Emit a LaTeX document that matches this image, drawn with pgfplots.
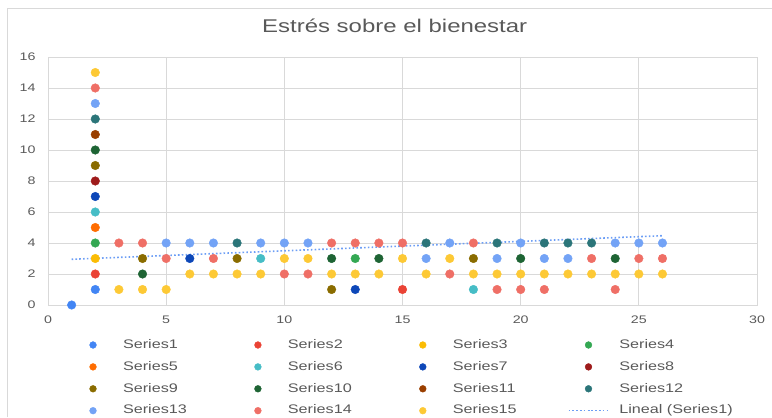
\documentclass[border=0pt]{standalone}
\usepackage{pgfplots}
\pgfplotsset{compat=1.18}
\usepackage{fontspec}
\setmainfont{Liberation Sans}[FakeStretch=1.3]
\definecolor{gridc}{HTML}{D9D9D9}
\definecolor{textc}{HTML}{595959}
\definecolor{S1}{HTML}{4285F4}
\definecolor{S2}{HTML}{EA4335}
\definecolor{S3}{HTML}{FBBC04}
\definecolor{S4}{HTML}{34A853}
\definecolor{S5}{HTML}{FF6D01}
\definecolor{S6}{HTML}{46BDC6}
\definecolor{S7}{HTML}{0D47B8}
\definecolor{S8}{HTML}{9E1B1B}
\definecolor{S9}{HTML}{8A6C00}
\definecolor{S10}{HTML}{1E6434}
\definecolor{S11}{HTML}{9A3F00}
\definecolor{S12}{HTML}{2B7579}
\definecolor{S13}{HTML}{73A3F6}
\definecolor{S14}{HTML}{EF6F66}
\definecolor{S15}{HTML}{FDC935}
\definecolor{trend}{HTML}{6D9EF5}
\begin{document}
\begin{tikzpicture}[x=1bp,y=1bp]
\useasboundingbox (0,0) rectangle (772,417);
\draw[color=gridc, line width=1bp] (7,0) -- (7,408) -- (772,408);
\begin{axis}[
  at={(48bp,112bp)}, anchor=south west,
  scale only axis, width=709bp, height=248bp,
  xmin=0, xmax=30, ymin=0, ymax=16,
  xtick={0,5,...,30}, ytick={0,2,...,16},
  grid=major, grid style={color=gridc, line width=0.9bp},
  axis line style={color=gridc, line width=0.9bp},
  major tick style={draw=none},
  clip=false,
  /pgf/number format/assume math mode=true,
  xticklabel style={font=\fontsize{11}{13}\selectfont, text=textc, yshift=-7bp},
  yticklabel style={font=\fontsize{11}{13}\selectfont, text=textc, xshift=-9bp},
  title={Estrés sobre el bienestar},
  title style={at={(0.489,1.0766)}, anchor=base, font=\fontsize{18.5}{22}\selectfont, text=textc},
  legend columns=4,
  legend cell align=left,
  legend image code/.code={\path[draw=none,fill=none] (0bp,-3bp) rectangle (40bp,3bp); \draw[mark repeat=2,mark phase=2,mark size=3.4bp,#1] plot coordinates {(0bp,0bp) (20bp,0bp) (40bp,0bp)};},
  legend style={at={(0.0353,-0.13)}, anchor=north west, draw=none, fill=none,
    inner sep=0pt, outer sep=0pt, row sep=6.4bp,
    font=\fontsize{12.5}{15}\selectfont, text=textc,
    nodes={inner xsep=10bp, inner ysep=2bp, text height=9bp, text depth=2.5bp},
    /tikz/every even column/.append style={column sep=41bp}},
  every axis plot/.append style={only marks, mark=*, mark size=4.3bp},
]
\addplot[color=S1] coordinates {(1,0) (2,1)};
\addlegendentry{Series1}
\addplot[color=S2] coordinates {(2,2) (15,1)};
\addlegendentry{Series2}
\addplot[color=S3] coordinates {(2,3)};
\addlegendentry{Series3}
\addplot[color=S4] coordinates {(2,4) (13,3)};
\addlegendentry{Series4}
\addplot[color=S5] coordinates {(2,5)};
\addlegendentry{Series5}
\addplot[color=S6] coordinates {(2,6) (9,3) (18,1)};
\addlegendentry{Series6}
\addplot[color=S7] coordinates {(2,7) (6,3) (13,1)};
\addlegendentry{Series7}
\addplot[color=S8] coordinates {(2,8)};
\addlegendentry{Series8}
\addplot[color=S9] coordinates {(2,9) (4,3) (8,3) (12,1) (18,3)};
\addlegendentry{Series9}
\addplot[color=S10] coordinates {(2,10) (4,2) (12,3) (14,3) (20,3) (24,3)};
\addlegendentry{Series10}
\addplot[color=S11] coordinates {(2,11)};
\addlegendentry{Series11}
\addplot[color=S12] coordinates {(2,12) (8,4) (16,4) (19,4) (21,4) (22,4) (23,4)};
\addlegendentry{Series12}
\addplot[color=S13] coordinates {(2,13) (5,4) (6,4) (7,4) (9,4) (10,4) (11,4) (17,4) (20,4) (24,4) (25,4) (26,4) (16,3) (19,3) (21,3) (22,3)};
\addlegendentry{Series13}
\addplot[color=S14] coordinates {(2,14) (3,4) (4,4) (12,4) (13,4) (14,4) (15,4) (18,4) (5,3) (7,3) (23,3) (25,3) (26,3) (10,2) (11,2) (17,2) (19,1) (20,1) (21,1) (24,1)};
\addlegendentry{Series14}
\addplot[color=S15] coordinates {(2,15) (3,1) (4,1) (5,1) (6,2) (7,2) (8,2) (9,2) (12,2) (13,2) (14,2) (16,2) (18,2) (19,2) (20,2) (21,2) (22,2) (23,2) (24,2) (25,2) (26,2) (10,3) (11,3) (15,3) (17,3)};
\addlegendentry{Series15}
\addplot[color=trend, no marks, sharp plot, line width=1.6bp, dash pattern=on 1.6bp off 2.2bp] coordinates {(1,2.95) (26,4.47)};
\addlegendentry{Lineal (Series1)}
\end{axis}
\end{tikzpicture}
\end{document}
